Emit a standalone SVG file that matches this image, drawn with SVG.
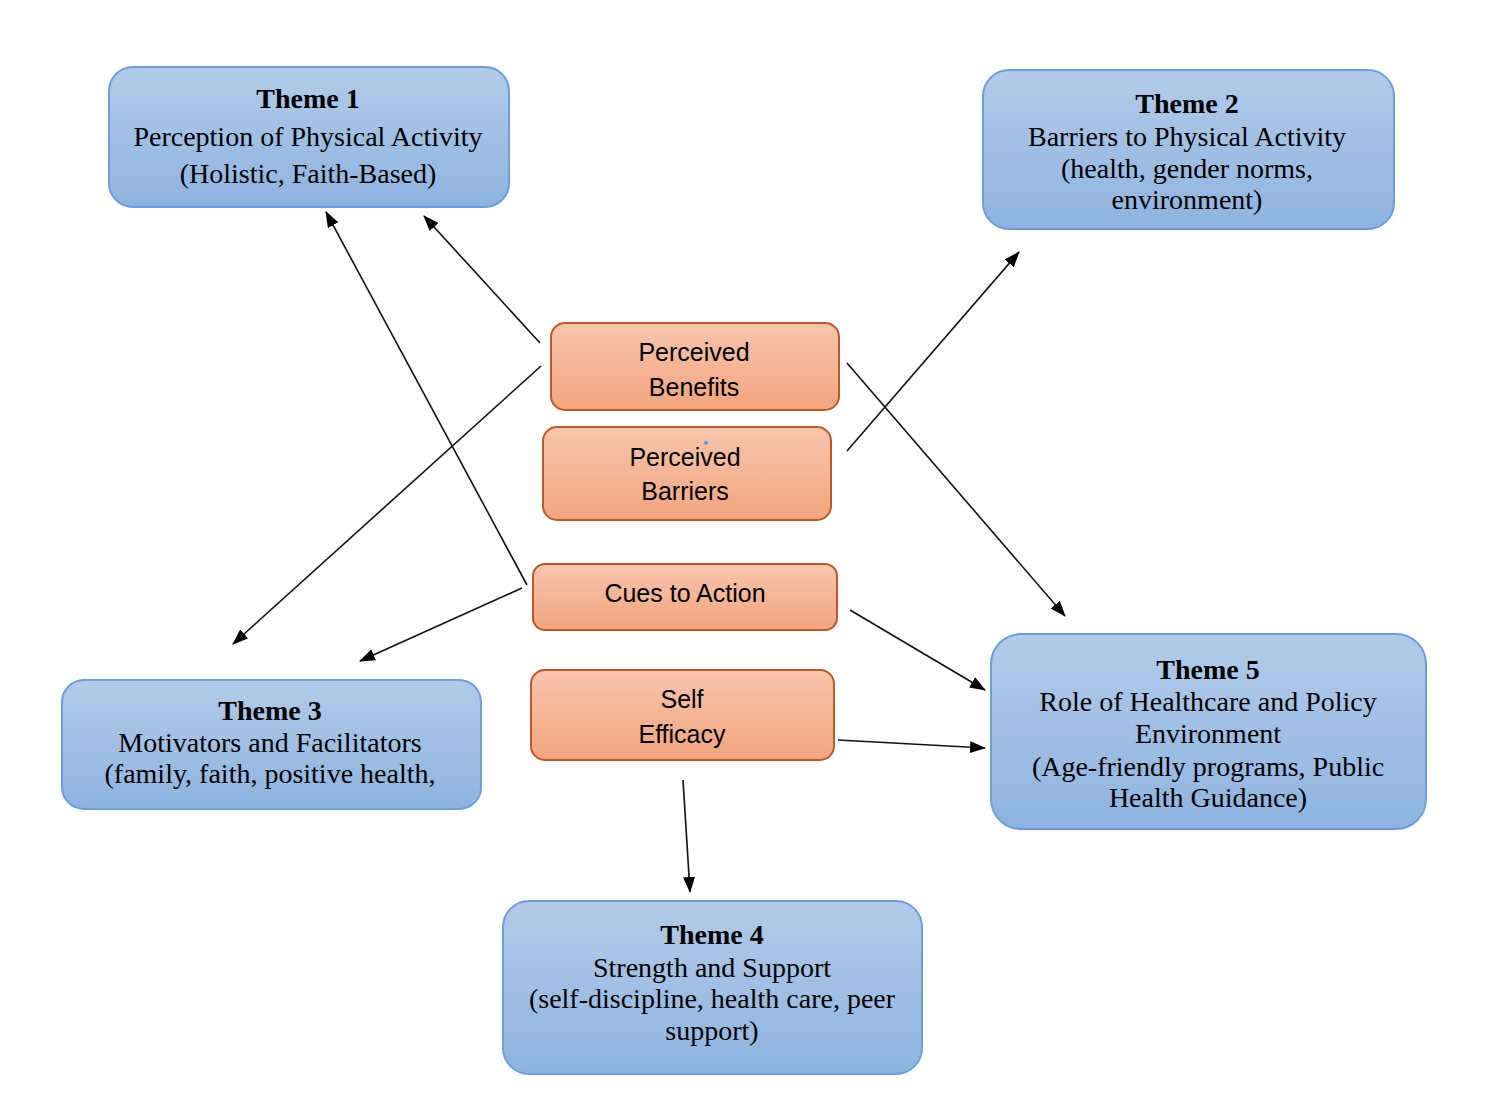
<svg xmlns="http://www.w3.org/2000/svg" width="1500" height="1104" viewBox="0 0 1500 1104">
<defs>
<linearGradient id="blueG" x1="0" y1="0" x2="0" y2="1">
<stop offset="0" stop-color="#b3cbe9"/>
<stop offset="1" stop-color="#8eb3e0"/>
</linearGradient>
<linearGradient id="orangeG" x1="0" y1="0" x2="0" y2="1">
<stop offset="0" stop-color="#f7c5ae"/>
<stop offset="1" stop-color="#f4a47f"/>
</linearGradient>
<marker id="arr" viewBox="0 0 16 12" refX="15" refY="6" markerWidth="16" markerHeight="12" markerUnits="userSpaceOnUse" orient="auto">
<path d="M0,0 L16,6 L0,12 Z" fill="#000"/>
</marker>
<style>
.theme{fill:url(#blueG);stroke:#6d9edb;stroke-width:2}
.hbm{fill:url(#orangeG);stroke:#b8592a;stroke-width:2}
.tt{font-family:"Liberation Serif","Times New Roman",serif;font-size:28px;fill:#000;text-anchor:middle}
.tb{font-weight:bold}
.ot{font-family:"Liberation Sans",Arial,sans-serif;font-size:25px;fill:#000;text-anchor:middle}
.conn line{stroke:#111;stroke-width:1.6;marker-end:url(#arr)}
</style>
</defs>
<rect width="1500" height="1104" fill="#fff"/>
<g id="connectors" class="conn">
<line x1="540" y1="343" x2="424" y2="216"/>
<line x1="527" y1="585" x2="326" y2="212"/>
<line x1="541" y1="366" x2="233" y2="644"/>
<line x1="522" y1="588" x2="360" y2="661"/>
<line x1="847" y1="451" x2="1019" y2="252"/>
<line x1="847" y1="363" x2="1065" y2="616"/>
<line x1="850" y1="610" x2="985" y2="690"/>
<line x1="838" y1="740" x2="985" y2="748"/>
<line x1="683" y1="780" x2="690" y2="892"/>
</g>
<g id="theme1">
<rect class="theme" x="109" y="67" width="400" height="140" rx="24"/>
<text class="tt tb" x="308" y="108">Theme 1</text>
<text class="tt" x="308" y="146">Perception of Physical Activity</text>
<text class="tt" x="308" y="183">(Holistic, Faith-Based)</text>
</g>
<g id="theme2">
<rect class="theme" x="983" y="70" width="411" height="159" rx="26"/>
<text class="tt tb" x="1187" y="113">Theme 2</text>
<text class="tt" x="1187" y="146">Barriers to Physical Activity</text>
<text class="tt" x="1187" y="178">(health, gender norms,</text>
<text class="tt" x="1187" y="209">environment)</text>
</g>
<g id="theme3">
<rect class="theme" x="62" y="680" width="419" height="129" rx="22"/>
<text class="tt tb" x="270" y="720">Theme 3</text>
<text class="tt" x="270" y="752">Motivators and Facilitators</text>
<text class="tt" x="270" y="783">(family, faith, positive health,</text>
</g>
<g id="theme4">
<rect class="theme" x="503" y="901" width="419" height="173" rx="26"/>
<text class="tt tb" x="712" y="944">Theme 4</text>
<text class="tt" x="712" y="977">Strength and Support</text>
<text class="tt" x="712" y="1008">(self-discipline, health care, peer</text>
<text class="tt" x="712" y="1040">support)</text>
</g>
<g id="theme5">
<rect class="theme" x="991" y="634" width="435" height="195" rx="30"/>
<text class="tt tb" x="1208" y="679">Theme 5</text>
<text class="tt" x="1208" y="711">Role of Healthcare and Policy</text>
<text class="tt" x="1208" y="743">Environment</text>
<text class="tt" x="1208" y="776">(Age-friendly programs, Public</text>
<text class="tt" x="1208" y="807">Health Guidance)</text>
</g>
<g id="perceived-benefits">
<rect class="hbm" x="551" y="323" width="288" height="87" rx="14"/>
<text class="ot" x="694" y="361">Perceived</text>
<text class="ot" x="694" y="396">Benefits</text>
</g>
<g id="perceived-barriers">
<rect class="hbm" x="543" y="427" width="288" height="93" rx="14"/>
<circle cx="706" cy="443" r="2" fill="#5b9bd5"/>
<text class="ot" x="685" y="466">Perceived</text>
<text class="ot" x="685" y="500">Barriers</text>
</g>
<g id="cues-to-action">
<rect class="hbm" x="533" y="564" width="304" height="66" rx="12"/>
<text class="ot" x="685" y="602">Cues to Action</text>
</g>
<g id="self-efficacy">
<rect class="hbm" x="531" y="670" width="303" height="90" rx="14"/>
<text class="ot" x="682" y="708">Self</text>
<text class="ot" x="682" y="743">Efficacy</text>
</g>
</svg>
